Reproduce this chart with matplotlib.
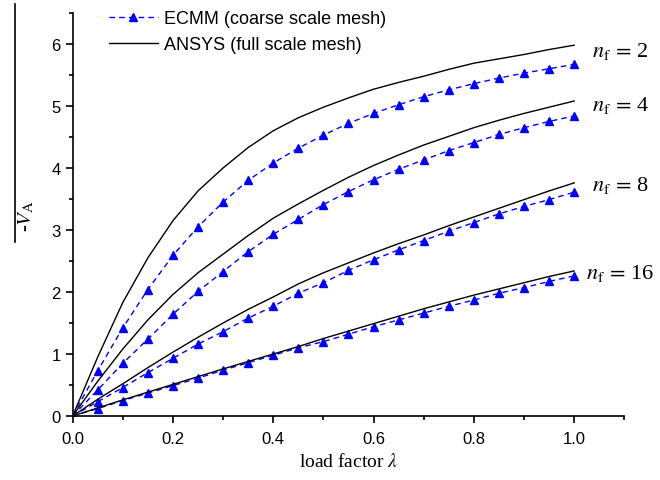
import matplotlib
matplotlib.use("Agg")
import matplotlib.pyplot as plt
import numpy as np
from matplotlib.lines import Line2D
from matplotlib.ticker import MultipleLocator

plt.rcParams['font.family'] = ['Liberation Sans', 'DejaVu Sans']
plt.rcParams['mathtext.fontset'] = 'stix'

# load factor grid (both methods sampled every 0.05)
lam = [0.0, 0.05, 0.1, 0.15, 0.2, 0.25, 0.3, 0.35, 0.4, 0.45, 0.5,
       0.55, 0.6, 0.65, 0.7, 0.75, 0.8, 0.85, 0.9, 0.95, 1.0]

# ECMM (coarse scale mesh)
ecmm_nf2 = [0, 0.73, 1.42, 2.04, 2.59, 3.05, 3.45, 3.80, 4.08, 4.32, 4.53,
            4.72, 4.88, 5.02, 5.15, 5.26, 5.36, 5.45, 5.53, 5.60, 5.67]
ecmm_nf4 = [0, 0.42, 0.85, 1.24, 1.64, 2.01, 2.33, 2.65, 2.93, 3.17, 3.41,
            3.62, 3.81, 3.98, 4.13, 4.28, 4.41, 4.54, 4.65, 4.75, 4.84]
ecmm_nf8 = [0, 0.23, 0.46, 0.70, 0.93, 1.16, 1.36, 1.58, 1.77, 1.98, 2.15,
            2.35, 2.52, 2.68, 2.83, 2.98, 3.12, 3.26, 3.38, 3.49, 3.61]
ecmm_nf16 = [0, 0.12, 0.25, 0.37, 0.49, 0.61, 0.74, 0.86, 0.98, 1.10, 1.20,
             1.32, 1.44, 1.55, 1.66, 1.77, 1.87, 1.98, 2.07, 2.17, 2.26]

# ANSYS (full scale mesh)
ansys_nf2 = [0, 0.95, 1.83, 2.55, 3.15, 3.63, 4.00, 4.33, 4.60, 4.81, 4.98,
             5.13, 5.27, 5.38, 5.48, 5.59, 5.69, 5.76, 5.83, 5.91, 5.98]
ansys_nf4 = [0, 0.56, 1.08, 1.55, 1.96, 2.31, 2.61, 2.91, 3.19, 3.42, 3.64,
             3.85, 4.04, 4.21, 4.37, 4.51, 4.65, 4.77, 4.88, 4.98, 5.08]
ansys_nf8 = [0, 0.27, 0.52, 0.78, 1.03, 1.27, 1.50, 1.72, 1.92, 2.13, 2.31,
             2.47, 2.63, 2.78, 2.92, 3.07, 3.21, 3.35, 3.49, 3.63, 3.76]
ansys_nf16 = [0, 0.13, 0.26, 0.385, 0.51, 0.635, 0.76, 0.88, 1.00, 1.12, 1.25,
              1.37, 1.49, 1.61, 1.73, 1.84, 1.95, 2.05, 2.15, 2.25, 2.34]

nf_labels = ['2', '4', '8', '16']
nf_label_x = [1.036, 1.036, 1.036, 1.024]
nf_label_y = [5.89, 5.03, 3.74, 2.31]

ecmm = [ecmm_nf2, ecmm_nf4, ecmm_nf8, ecmm_nf16]
ansys = [ansys_nf2, ansys_nf4, ansys_nf8, ansys_nf16]

fig = plt.figure(figsize=(6.6, 4.81), dpi=100)
ax = fig.add_axes([0.110, 0.133, 0.836, 0.838])

for i in range(4):
    ax.plot(lam, ecmm[i], color='#0000ff', linestyle=(0, (4, 3)), linewidth=1.0,
            marker='^', markersize=5.5, label='ECMM (coarse scale mesh)' if i == 0 else None)
    ax.plot(lam, ansys[i], color='black', linewidth=1.0,
            label='ANSYS (full scale mesh)' if i == 0 else None)
    ax.text(nf_label_x[i], nf_label_y[i], r'$n_\mathrm{f}\,=\,$' + nf_labels[i],
            fontsize=16, family='Liberation Serif', va='center', ha='left')

ax.set_xlim(0, 1.1)
ax.set_ylim(0, 6.5)
ax.xaxis.set_major_locator(MultipleLocator(0.2))
ax.xaxis.set_minor_locator(MultipleLocator(0.1))
ax.yaxis.set_major_locator(MultipleLocator(1))
ax.yaxis.set_minor_locator(MultipleLocator(0.5))
ax.set_xticks([0, 0.2, 0.4, 0.6, 0.8, 1.0])
ax.set_xticklabels(['0.0', '0.2', '0.4', '0.6', '0.8', '1.0'])
ax.set_yticks([0, 1, 2, 3, 4, 5, 6])

ax.spines['top'].set_visible(False)
ax.spines['right'].set_visible(False)
for s in ['left', 'bottom']:
    ax.spines[s].set_linewidth(1.2)
ax.tick_params(which='major', direction='out', length=5, width=1.2, labelsize=12)
ax.tick_params(which='minor', direction='out', length=3, width=1.2)
ax.tick_params(axis='x', pad=6)

ax.set_xlabel(r'load factor $\lambda$', family='Liberation Serif', fontsize=14, labelpad=4)
fig.text(0.040, 1 - 216 / 481, r'-$V_\mathrm{A}$', rotation=90, fontsize=15,
         family='Liberation Serif', ha='center', va='center')
# long overline drawn beside the rotated label
fig.add_artist(Line2D([15 / 660, 15 / 660], [1 - 5 / 481, 1 - 243 / 481],
                      transform=fig.transFigure, color='black', linewidth=1.2))

leg = ax.legend(loc='upper left', bbox_to_anchor=(100 / 660, 1 - 2 / 481),
                bbox_transform=fig.transFigure, frameon=False, fontsize=13,
                handlelength=2.7, handletextpad=0.35, labelspacing=0.5,
                borderpad=0, numpoints=1)

fig.savefig('out.png', dpi=100)
